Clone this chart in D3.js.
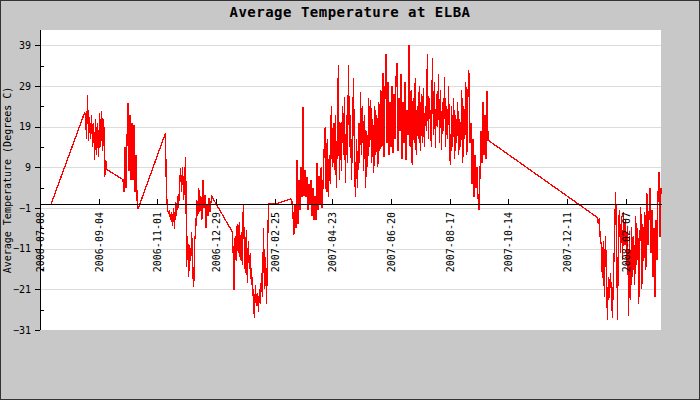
<!DOCTYPE html>
<html>
<head>
<meta charset="utf-8">
<script src="https://cdn.jsdelivr.net/npm/d3@7"></script>
<style>
  body { margin: 0; background: #fff; }
  svg { display: block; font-family: "DejaVu Sans Mono", monospace; }
</style>
</head>
<body>
<script>
// daily average temperatures, one value per day starting at each run's date
const run1Start = "2006-07-19";
const run1 = [0];

const run2Start = "2006-08-21";
const run2 = [22.4, 22, 16, 26.8, 15.5, 21.5, 16, 22, 14, 20, 10.8, 21, 12, 20, 11.5, 22.5,
  14, 22.8, 13, 21, 6.7, 10.8, 8.5];

const run3Start = "2006-09-28";
const run3 = [6, 3, 14, 4, 15.7, 24.8, 8, 21.9, 6, 20, 5.9, 19.4, 3, 12, 1, -1.2];

const run4Start = "2006-11-09";
const run4 = [17.4, 3, -1, -2.5, -1.5, -4, -2, -5.5, -1, -6.2, 0.5, -3, 2, -1, 5, 8.8,
  3, 9, 1, 6, 11.6, -15.4, -8, -18, -10, -14, -7, -17, -20.3, -9, -6.4, 1,
  -3, 3.9, -2, 2, -4, 5.9, -1, 2.2, -5.9, 0, -3, 1.5, -2, 0.5, 1.8];

const run5Start = "2007-01-14";
const run5 = [-6.8, -12, -21.2, -8, -14, -5, -12, -4.5, -13.8, -7, -15, 0, -10, -17, -6.4, -19.5,
  -9, -16, -12, -20, -18, -24, -28, -20, -25, -22, -26.5, -21, -24.5, -17, -23, -6,
  -21, -13, -24.5, -10, 0];

const run6Start = "2007-02-26";
const run6 = [0];

const run7Start = "2007-03-12";
const run7 = [1.2, 1.3, 0.8,
  -2, -7.6, 0, -6, 10.8, -5, 6, -1.5, 9, 1.7, 23.9, 2, 8.3, 1.7, 6.7, -1.5,
  5, 0, 5.9, -3, 4, -4, 2, -3.9, 10, -1.5, 7, 0, 9, -1, 6, 14,
  19, 3, 16, 1.7, 12, 5, 24, 9, 20, 8.3, 22, 4, 18, 34.2, 6, 20,
  8, 24, 12, 26.4, 5.1, 22, 10, 34.2, 14, 22, 6, 18, 31, 8, 1.7, 16,
  4, 20, 10, 27.6, 12, 24, 8, 22, 3.9, 18, 9, 26, 14, 25.6, 10, 21,
  7.6, 24, 12, 22, 9, 25, 13, 28, 14, 32.2, 11.5, 26, 36.9, 15, 30, 12,
  25, 14, 29, 12.5, 27, 16, 31, 34.7, 13, 26, 18, 32, 11, 25, 15, 30,
  10.8, 23, 17, 39, 14, 28, 9.6, 26, 15, 31, 12, 24, 16, 29, 13, 27,
  15, 28.5, 14, 24, 18, 36.9, 16, 26, 20, 14, 35.8, 17, 30, 13.7, 27, 19,
  32, 15, 28, 13.3, 25, 18, 31.3, 14, 24, 16, 29, 12, 9.6, 24, 14, 26,
  11, 22, 15, 25, 12, 21, 14, 28, 10, 24, 16, 30, 12, 26, 33, 15,
  20, 5, 16, 1.7, 12, 4, 9, 2, -1.5, 7, 18, 10, 25, 12, 22, 11,
  27.8, 15.7];

const run8Start = "2008-01-10";
const run8 = [-3.3, -5, -3.5, -8.9, -10, -18.2, -9, -22.9, -8, -15, -28.5, -18, -23, -17, -22, -28,
  -17, -10, 3, -6, -28.5, -5, -1.5, -12, -3, -13.8, -2, -10, -4, -15, -6, -27.6,
  -8, -23.6, -5.6, -18, -8, -20, -3, -15, -6, -24.5, -10, -0.8, -21, -5, -14, -2,
  -16.2, 2.6, -10, -4, 3.9, -12, -1.5, -18, -6, -23, -4, -13.8, 2, 7.9, -8, 4];

const xStart = "2006-07-08";
const xEnd = "2008-03-13";
const xTickLabels = ["2006-07-08", "2006-09-04", "2006-11-01", "2006-12-29", "2007-02-25",
  "2007-04-23", "2007-06-20", "2007-08-17", "2007-10-14", "2007-12-11", "2008-02-07"];
const yTickLabels = [-31, -21, -11, -1, 9, 19, 29, 39];
const yMinorTicks = [-26, -16, -6, 4, 14, 24, 34];

function init() {
    "use strict";

    const w = 700;
    const h = 400;
    const left = 40;
    const right = 661;
    const top = 30;
    const bottom = 330;

    const parse = d3.utcParse("%Y-%m-%d");

    // flatten runs into one dated series
    const runs = [[run1Start, run1], [run2Start, run2], [run3Start, run3], [run4Start, run4],
        [run5Start, run5], [run6Start, run6], [run7Start, run7], [run8Start, run8]];
    const data = [];
    runs.forEach(([start, vals]) => {
        const s = parse(start);
        vals.forEach((v, i) => data.push({ date: d3.utcDay.offset(s, i), value: v }));
    });

    const svg = d3.select('body')
    .append('svg')
        .attr("width", w)
        .attr("height", h);

    svg.append('rect')
        .attr("x", 0.5).attr("y", 0.5)
        .attr("width", w - 1).attr("height", h - 1)
        .attr("fill", "#c8c8c8")
        .attr("stroke", "#333");

    svg.append('rect')
        .attr("x", left).attr("y", top)
        .attr("width", right - left).attr("height", bottom - top)
        .attr("fill", "#fff");

    svg.append('text')
        .attr("x", w / 2)
        .attr("y", 17)
        .attr("text-anchor", "middle")
        .style("font-size", "14px")
        .style("font-weight", "bold")
        .style("letter-spacing", "0.5px")
        .text("Average Temperature at ELBA");

    // scales
    const xScale = d3.scaleUtc()
        .domain([parse(xStart), parse(xEnd)])
        .range([left, right]);

    const yScale = d3.scaleLinear()
        .domain([-31, 42.8])
        .range([bottom, top]);

    // grid
    svg.append('g')
        .attr("transform", "translate(" + left + ",0)")
        .call(d3.axisLeft(yScale).tickValues(yTickLabels.slice(1)).tickSize(-(right - left)).tickFormat(""))
        .call(g => g.select(".domain").remove())
        .call(g => g.selectAll("line").attr("stroke", "#dcdcdc").attr("shape-rendering", "crispEdges"));

    // data line
    const line = d3.line()
        .x(d => xScale(d.date))
        .y(d => yScale(d.value));

    svg.append('path')
        .datum(data)
        .attr("d", line)
        .attr("fill", "none")
        .attr("stroke", "#ff0000")
        .attr("stroke-width", 1.3)
        .attr("shape-rendering", "crispEdges");

    // y axis
    const yAxis = d3.axisLeft(yScale)
        .tickValues(yTickLabels)
        .tickSize(5)
        .tickPadding(4)
        .tickFormat(d3.format("d"));
    svg.append('g')
        .attr("id", "y-axis")
        .attr("transform", "translate(" + left + ",0)")
        .call(yAxis)
        .call(g => g.select(".domain").attr("d", "M0.5," + top + "V" + bottom).attr("shape-rendering", "crispEdges"))
        .call(g => g.selectAll("text").style("font-size", "10px").style("font-family", "DejaVu Sans Mono, monospace"))
        .call(g => g.selectAll(".tick line").attr("shape-rendering", "crispEdges"));

    svg.append('g')
        .attr("transform", "translate(" + left + ",0)")
        .call(d3.axisRight(yScale).tickValues(yMinorTicks).tickSize(4).tickFormat(""))
        .call(g => g.select(".domain").remove())
        .call(g => g.selectAll("line").attr("shape-rendering", "crispEdges"));

    // x axis along zero
    const xAxis = d3.axisBottom(xScale)
        .tickValues(xTickLabels.map(parse))
        .tickSizeInner(-5)
        .tickSizeOuter(0)
        .tickFormat(d3.utcFormat("%Y-%m-%d"));
    svg.append('g')
        .attr("id", "x-axis")
        .attr("transform", "translate(0," + Math.round(yScale(0)) + ")")
        .call(xAxis)
        .call(g => g.selectAll(".tick line").attr("shape-rendering", "crispEdges"))
        .call(g => g.select(".domain").attr("shape-rendering", "crispEdges"))
        .call(g => g.selectAll("text")
            .attr("y", 0)
            .attr("dy", "0.35em")
            .attr("text-anchor", "end")
            .attr("transform", "translate(0,8) rotate(-90)")
            .style("font-size", "10px")
            .style("font-family", "DejaVu Sans Mono, monospace"));

    svg.append('text')
        .attr("transform", "translate(11," + ((top + bottom) / 2) + ") rotate(-90)")
        .attr("text-anchor", "middle")
        .style("font-size", "10px")
        .text("Average Temperature (Degrees C)");
}

window.onload = init;
</script>
</body>
</html>
